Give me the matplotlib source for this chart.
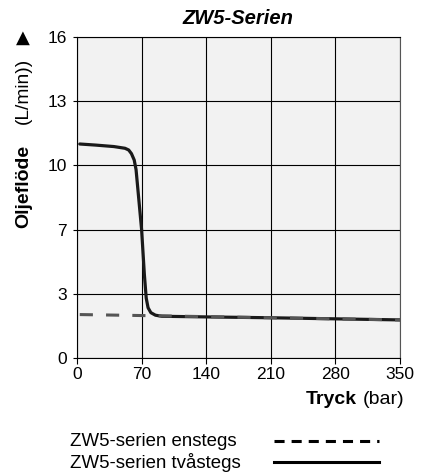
import numpy as np
import matplotlib
matplotlib.use('Agg')
import matplotlib.pyplot as plt
from matplotlib.lines import Line2D

plt.rcParams['font.family'] = ['Liberation Sans', 'DejaVu Sans']

# data
y_ticks = [0, 3, 7, 10, 13, 16]
x_ticks = [0, 70, 140, 210, 280, 350]

two_stage_x = [3, 20, 40, 52, 56, 59, 62, 64, 67, 70, 73, 75, 77, 80, 85, 92, 140, 210, 280, 350]
two_stage_y = [11.0, 10.95, 10.88, 10.8, 10.72, 10.55, 10.25, 9.8, 8.4, 7.0, 4.2, 2.8, 2.35, 2.12, 2.0, 1.95, 1.92, 1.88, 1.83, 1.78]

one_stage_x = [3, 90, 210, 350]
one_stage_y = [2.03, 1.97, 1.88, 1.78]

legend_labels = ['ZW5-serien enstegs', 'ZW5-serien tvåstegs']

W, H = 434, 472
fig = plt.figure(figsize=(W / 100, H / 100), dpi=100)
ax = fig.add_axes([77 / W, 1 - 358 / H, 323 / W, 321 / H])
ax.set_facecolor('#f2f2f2')

# y axis: ticks are evenly spaced although values are not
pos = np.arange(len(y_ticks))
fwd = lambda v: np.interp(v, y_ticks, pos)
inv = lambda p: np.interp(p, pos, y_ticks)
ax.set_yscale('function', functions=(fwd, inv))
ax.set_ylim(0, 16)
ax.set_xlim(0, 350)
ax.set_yticks(y_ticks)
ax.set_xticks(x_ticks)
ax.set_yticklabels([str(v) for v in y_ticks])
ax.set_xticklabels([str(v) for v in x_ticks])
ax.tick_params(axis='both', labelsize=12.5, color='black', width=0.8)
ax.tick_params(axis='y', length=3, pad=4.5)
ax.tick_params(axis='x', length=4, pad=2.5)
ax.grid(True, color='black', linewidth=0.8)
ax.set_axisbelow(True)
for s in ax.spines.values():
    s.set_linewidth(0.8)
    s.set_color('black')
ax.spines['right'].set_color('#555555')

ax.plot(two_stage_x, two_stage_y, color='#1a1a1a', linewidth=2.3,
        solid_capstyle='round', solid_joinstyle='round', zorder=3)
ax.plot(one_stage_x, one_stage_y, color='#555555', linewidth=2.2,
        linestyle=(0, (4.3, 4.3)), zorder=4)

# title
fig.text(238 / W, 1 - 18 / H, 'ZW5-Serien', ha='center', va='center',
         fontsize=14.5, fontweight='bold', fontstyle='italic')

# y label: arrow + bold + normal parts, sharing one baseline
fig.text(23 / W, 1 - 38 / H, '▲', ha='center', va='center', fontsize=13,
         family=['DejaVu Sans'])
fig.text(28 / W, 1 - 228 / H, 'Oljeflöde', rotation=90, rotation_mode='anchor',
         ha='left', va='baseline', fontsize=14, fontweight='bold')
fig.text(28 / W, 1 - 124 / H, '(L/min))', rotation=90, rotation_mode='anchor',
         ha='left', va='baseline', fontsize=13.8)

# x label: bold + normal parts
xl = fig.text(404 / W, 1 - 399 / H, '(bar)', ha='right', va='center', fontsize=14)
ax.annotate('Tryck', xy=(0, 0), xycoords=xl, xytext=(-4, 0), textcoords='offset points',
            ha='right', va='bottom', fontsize=14, fontweight='bold')

# legend: text left, sample line right
rows_y = [1 - 441 / H, 1 - 462 / H]
styles = [dict(linestyle=(0, (3.3, 2.3))), dict(linestyle='-')]
for lab, yy, st in zip(legend_labels, rows_y, styles):
    fig.text(70 / W, yy, lab, ha='left', va='center', fontsize=13.4)
    fig.add_artist(Line2D([274 / W, 379 / W], [yy, yy], transform=fig.transFigure,
                          color='black', linewidth=2.2, **st))

fig.savefig('out.png', dpi=100)
